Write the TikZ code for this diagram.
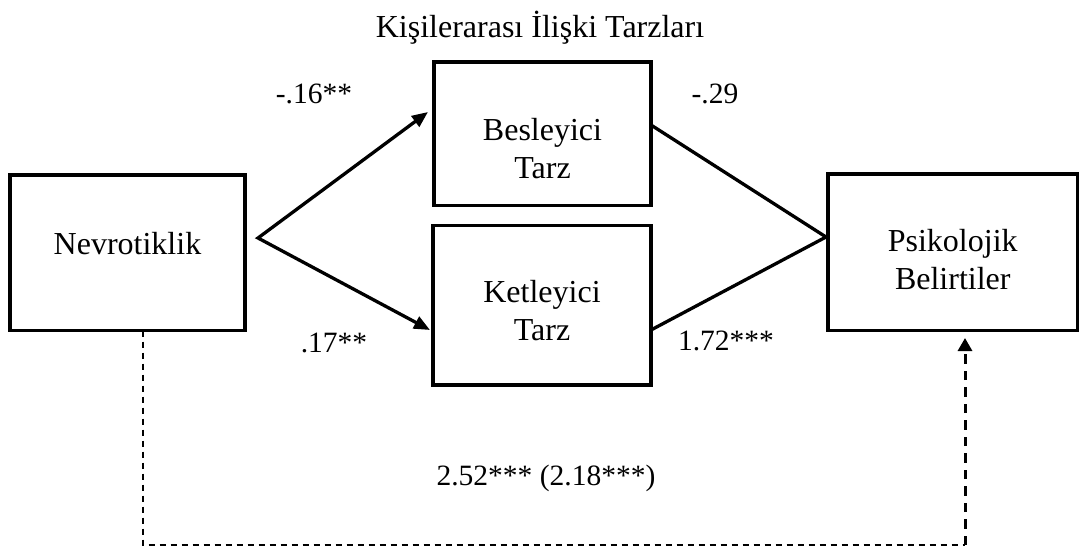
\documentclass[tikz,border=0pt]{standalone}
\usepackage{fontspec}
\setmainfont{Liberation Serif}
\usetikzlibrary{arrows.meta}
\newcommand{\boxtext}[3]{\raisebox{0pt}[#1][#2]{\begin{tabular}[t]{@{}c@{}}#3\end{tabular}}}
\begin{document}
\begin{tikzpicture}[x=1pt,y=-1pt,
  boxnode/.style={draw, line width=3.3pt, outer sep=0pt, inner sep=0pt, font=\fontsize{32}{38}\selectfont},
  lab/.style={anchor=base, inner sep=0pt, font=\fontsize{29.5}{35}\selectfont},
  titlelab/.style={anchor=base, inner sep=0pt, font=\fontsize{32}{38}\selectfont},
  solidarr/.style={line width=3.3pt, line join=miter, {Triangle[length=16pt,width=13pt]}-{Triangle[length=16pt,width=13pt]}},
  plainline/.style={line width=3.3pt, line join=miter},
  thindash/.style={line width=2pt, dash pattern=on 6pt off 5pt},
  thickdash/.style={line width=3pt, dash pattern=on 9.5pt off 7pt, -{Triangle[length=13pt,width=14pt]}},
]
\useasboundingbox (0,0) rectangle (1079,549);
\fill[white] (0,0) rectangle (1079,549);

\node[titlelab] (title) at (540,37) {Kişilerarası İlişki Tarzları};

\node[boxnode, minimum width=235pt, minimum height=155.5pt] (nev) at (127.5,252.75)
  {\raisebox{0pt}[12pt][9.5pt]{Nevrotiklik}};
\node[boxnode, minimum width=217pt, minimum height=143.5pt] (bes) at (542.5,133.75)
  {\boxtext{20pt}{7.5pt}{Besleyici\\Tarz}};
\node[boxnode, minimum width=218pt, minimum height=159.5pt] (ket) at (542,305.25)
  {\boxtext{8pt}{13pt}{Ketleyici\\Tarz}};
\node[boxnode, minimum width=249.5pt, minimum height=156.5pt] (psi) at (952.75,252.25)
  {\boxtext{10pt}{11pt}{Psikolojik\\Belirtiler}};

% forked arrows from Nevrotiklik
\coordinate (fork) at ([xshift=13pt,yshift=14.75pt]nev.east);
\draw[solidarr] ([xshift=-6pt,yshift=21.75pt]bes.west) -- (fork) -- ([xshift=-3pt,yshift=-24.75pt]ket.west);

% lines into Psikolojik
\draw[plainline] ([yshift=8.75pt]bes.east) -- ([xshift=-2pt,yshift=15.25pt]psi.west) -- ([yshift=-24.75pt]ket.east);

% dashed direct path
\coordinate (c1) at (143,545);
\coordinate (c2) at (965,545);
\draw[thindash] ([xshift=15.5pt]nev.south) -- (c1) -- (c2);
\draw[thickdash] (c2) -- ([xshift=12.25pt,yshift=-7.5pt]psi.south);

% coefficient labels
\node[lab] (l1) at (314,103) {-.16**};
\node[lab] (l2) at (334,352) {.17**};
\node[lab] (l3) at (715,103) {-.29};
\node[lab] (l4) at (726,350) {1.72***};
\node[lab] (l5) at (546,485) {2.52*** (2.18***)};
\end{tikzpicture}
\end{document}
